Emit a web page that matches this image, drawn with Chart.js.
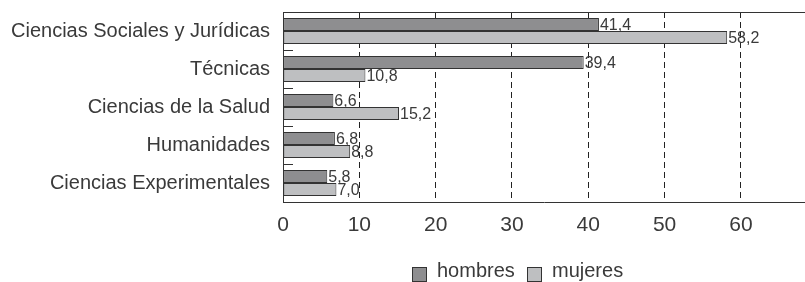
<!DOCTYPE html>
<html>
<head>
<meta charset="utf-8">
<script src="https://cdn.jsdelivr.net/npm/chart.js@4/dist/chart.umd.min.js"></script>
<style>
  body { margin: 0; background: #fff; }
  #wrap { position: relative; width: 805px; height: 282px; }
  #legend { position: absolute; left: 0; top: 0; width: 805px; height: 282px; pointer-events: none;
            font-family: "Liberation Sans", Arial, sans-serif; font-size: 20px; color: #3a3a3a; }
  .item { position: absolute; top: 259px; white-space: nowrap; }
  .box { position: absolute; top: 8px; width: 13px; height: 13px; border: 1px solid #333; }
  .txt { position: absolute; left: 25px; top: 0; }
</style>
</head>
<body>
<div id="wrap">
  <canvas id="chart" width="805" height="282"></canvas>
  <div id="legend">
    <div class="item" style="left:412px"><span class="box" style="background:#8e8e90"></span><span class="txt">hombres</span></div>
    <div class="item" style="left:527px"><span class="box" style="background:#bebfc1"></span><span class="txt">mujeres</span></div>
  </div>
</div>
<script>
const categories = ['Ciencias Sociales y Jurídicas', 'Técnicas', 'Ciencias de la Salud', 'Humanidades', 'Ciencias Experimentales'];
const hombres = [41.4, 39.4, 6.6, 6.8, 5.8];
const mujeres = [58.2, 10.8, 15.2, 8.8, 7.0];
const xTicks = [0, 10, 20, 30, 40, 50, 60];

const fontName = '"Liberation Sans", Arial, sans-serif';

// etiquetas de valor, tope del gráfico y marcas pequeñas del eje izquierdo
const extras = {
  id: 'extras',
  afterDatasetsDraw(chart) {
    const ctx = chart.ctx;
    const area = chart.chartArea;
    const y = chart.scales.y;
    ctx.save();
    ctx.strokeStyle = '#333';
    ctx.lineWidth = 1;
    ctx.beginPath();
    ctx.moveTo(area.left, Math.round(area.top) + 0.5);
    ctx.lineTo(area.right, Math.round(area.top) + 0.5);
    for (let i = 0; i < categories.length - 1; i++) {
      const py = Math.round((y.getPixelForValue(i) + y.getPixelForValue(i + 1)) / 2) + 0.5;
      ctx.moveTo(area.left, py);
      ctx.lineTo(area.left + 10, py);
    }
    ctx.stroke();

    ctx.fillStyle = '#3a3a3a';
    ctx.font = '16px ' + fontName;
    ctx.textBaseline = 'middle';
    ctx.textAlign = 'left';
    chart.data.datasets.forEach((ds, di) => {
      chart.getDatasetMeta(di).data.forEach((bar, i) => {
        const label = ds.data[i].toFixed(1).replace('.', ',');
        ctx.fillText(label, bar.x + 1, bar.y + 1);
      });
    });
    ctx.restore();
  }
};

new Chart(document.getElementById('chart'), {
  type: 'bar',
  data: {
    labels: categories,
    datasets: [
      { label: 'hombres', data: hombres, backgroundColor: '#8e8e90', borderColor: '#333', borderWidth: 1,
        borderSkipped: false, categoryPercentage: 0.68, barPercentage: 1.0 },
      { label: 'mujeres', data: mujeres, backgroundColor: '#bebfc1', borderColor: '#333', borderWidth: 1,
        borderSkipped: false, categoryPercentage: 0.68, barPercentage: 1.0 }
    ]
  },
  options: {
    indexAxis: 'y',
    responsive: false,
    animation: false,
    layout: { padding: { top: 12, bottom: 50, right: 0, left: 0 } },
    plugins: { legend: { display: false }, tooltip: { enabled: false } },
    scales: {
      x: {
        min: 0,
        max: 68.4,
        afterBuildTicks: (scale) => { scale.ticks = xTicks.map(v => ({ value: v })); },
        afterFit: (scale) => { scale.height = 30; scale.paddingLeft = 0; scale.paddingRight = 0; },
        ticks: { color: '#3a3a3a', font: { family: fontName, size: 21 }, padding: 11, maxRotation: 0 },
        grid: {
          drawTicks: false,
          color: (c) => (c.tick && c.tick.value === 0) ? 'rgba(0,0,0,0)' : '#222',
          lineWidth: 1
        },
        border: { display: true, color: '#333', width: 1, dash: [6, 4] }
      },
      y: {
        afterFit: (scale) => { scale.width = 283; scale.paddingTop = 0; scale.paddingBottom = 0; },
        ticks: { color: '#3a3a3a', font: { family: fontName, size: 20 }, padding: 13 },
        grid: { display: false, drawTicks: false },
        border: { display: true, color: '#333', width: 1 }
      }
    }
  },
  plugins: [extras]
});
</script>
</body>
</html>
